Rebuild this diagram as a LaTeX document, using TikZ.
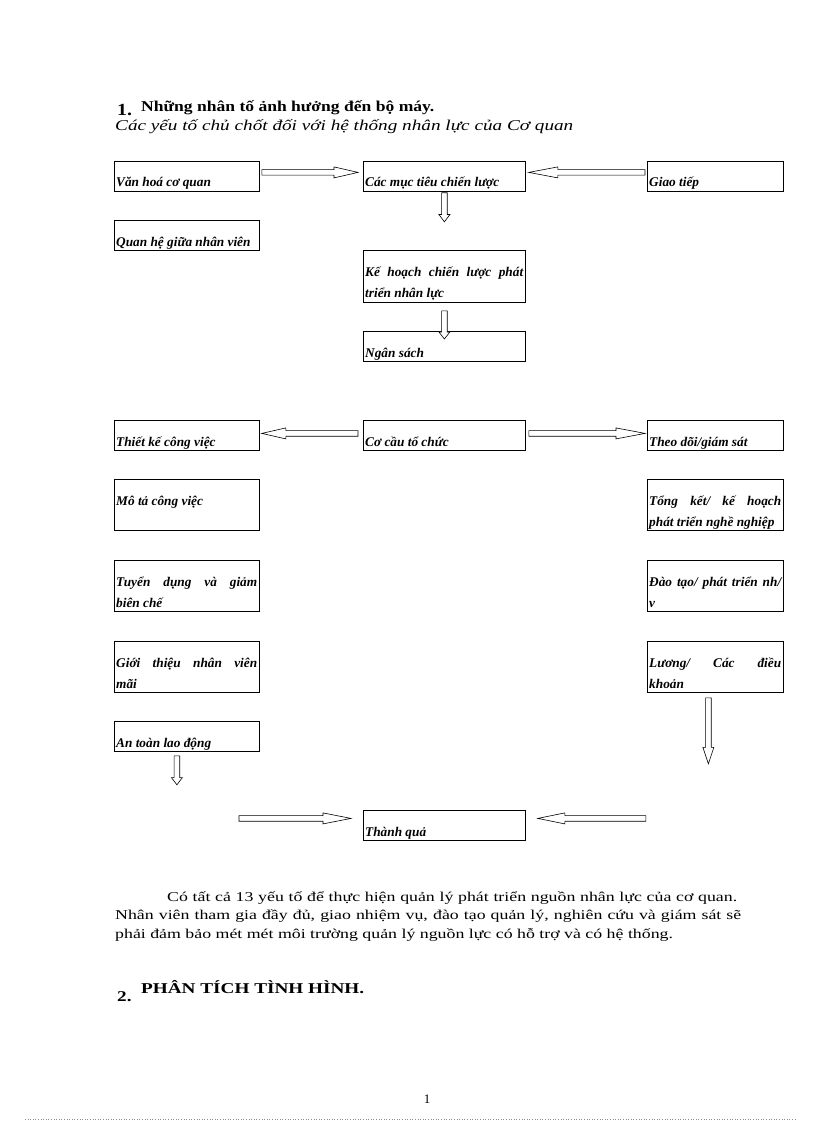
\documentclass[tikz,border=0pt]{standalone}
\usepackage{fontspec}
\setmainfont{Liberation Serif}
\newfontfamily\wideserif[FakeStretch=1.28]{Liberation Serif}
\newfontfamily\headserif[FakeStretch=1.17]{Liberation Serif}
\newfontfamily\paraserif[FakeStretch=1.32]{Liberation Serif}
\usetikzlibrary{calc}
\tikzset{
  box/.style={draw, line width=0.8pt, inner sep=0pt, anchor=north west},
  lbl/.style={inner sep=0pt, anchor=base west, font=\fontsize{13.3}{21}\selectfont\bfseries\itshape},
  txt/.style={inner sep=0pt, anchor=base west},
  arr/.style={draw, line width=0.6pt, fill=white, line join=miter},
}
\newcommand\bx[6]{%
  \node[box, minimum width=#4pt, minimum height=#5pt] (#1) at (#2,#3) {};
  \node[lbl] (#1t) at ($(#1.north west)+(2,26)$) {\parbox[t]{\dimexpr #4pt-4pt\relax}{#6}};}
\newcommand\jl[1]{\makebox[\linewidth][s]{#1}}
\newcommand\barrow[2]{%
  \coordinate (bm) at ($(#1)!0.75!(#2)$);
  \draw[arr] ($(#1)!2.8pt!90:(#2)$) -- ($(bm)!2.8pt!90:(#2)$) -- ($(bm)!5.5pt!90:(#2)$) -- (#2)
    -- ($(bm)!5.5pt!-90:(#2)$) -- ($(bm)!2.8pt!-90:(#2)$) -- ($(#1)!2.8pt!-90:(#2)$) -- cycle;}
\begin{document}
\begin{tikzpicture}[x=1pt, y=-1pt]
\useasboundingbox (0,0) rectangle (816,1123);
% headings
\node[txt, font=\headserif\bfseries\fontsize{17}{20}\selectfont] (h1n) at (117,116) {1.};
\node[txt, font=\headserif\bfseries\fontsize{15}{18}\selectfont] (h1) at (141,112) {Những nhân tố ảnh hưởng đến bộ máy.};
\node[txt, font=\wideserif\itshape\fontsize{15}{18}\selectfont] (sub) at (115,131) {Các yếu tố chủ chốt đối với hệ thống nhân lực của Cơ quan};
% boxes
\bx{vh}{114}{161}{145}{30}{Văn hoá cơ quan}
\bx{mt}{363}{161}{162}{30}{Các mục tiêu chiến lược}
\bx{gt}{647}{161}{136}{30}{Giao tiếp}
\bx{qh}{114}{220}{145}{30}{Quan hệ giữa nhân viên}
\bx{kh}{363}{250}{162}{52}{\jl{Kế hoạch chiến lược phát}\\triển nhân lực}
\bx{ns}{363}{331}{162}{30}{Ngân sách}
\bx{tk}{114}{420}{145}{30}{Thiết kế công việc}
\bx{cc}{363}{420}{162}{30}{Cơ cầu tổ chức}
\bx{td}{647}{420}{136}{30}{Theo dõi/giám sát}
\bx{mo}{114}{479}{145}{51}{Mô tả công việc}
\bx{tkk}{647}{479}{136}{51}{\jl{Tổng kết/ kế hoạch}\\phát triển nghề nghiệp}
\bx{tu}{114}{560}{145}{51}{\jl{Tuyển dụng và giảm}\\biên chế}
\bx{dt}{647}{560}{136}{51}{\jl{Đào tạo/ phát triển nh/}\\v}
\bx{gi}{114}{641}{145}{51}{\jl{Giới thiệu nhân viên}\\mãi}
\bx{lu}{647}{641}{136}{51}{\jl{Lương/ Các điều}\\khoản}
\bx{an}{114}{721}{145}{30}{An toàn lao động}
\bx{tq}{363}{810}{162}{30}{Thành quả}
% arrow end points
\coordinate (a1s) at ($(vh.east)+(2,-4)$);  \coordinate (a1e) at ($(mt.west)+(-5,-4)$);
\coordinate (a2s) at ($(gt.west)+(-2,-4)$); \coordinate (a2e) at ($(mt.east)+(3,-4)$);
\coordinate (a3s) at ($(mt.south)+(0,1)$);  \coordinate (a3e) at ($(mt.south)+(0,30)$);
\coordinate (a4s) at ($(kh.south)+(0,8)$);  \coordinate (a4e) at ($(ns.north)+(0,8)$);
\coordinate (a5s) at ($(cc.west)+(-5,-2)$); \coordinate (a5e) at ($(tk.east)+(2,-2)$);
\coordinate (a6s) at ($(cc.east)+(3,-2)$);  \coordinate (a6e) at ($(td.west)+(-2,-2)$);
\coordinate (a7s) at ($(an.south)+(-10,4)$); \coordinate (a7e) at ($(an.south)+(-10,33)$);
\coordinate (a8s) at ($(lu.south)+(-7,5)$);  \coordinate (a8e) at ($(lu.south)+(-7,71)$);
\coordinate (a9s) at ($(tq.west)+(-124,-7)$); \coordinate (a9e) at ($(tq.west)+(-12,-7)$);
\coordinate (a10s) at ($(tq.east)+(120,-7)$); \coordinate (a10e) at ($(tq.east)+(12,-7)$);
\barrow{a1s}{a1e}
\barrow{a2s}{a2e}
\barrow{a3s}{a3e}
\barrow{a4s}{a4e}
\barrow{a5s}{a5e}
\barrow{a6s}{a6e}
\barrow{a7s}{a7e}
\barrow{a8s}{a8e}
\barrow{a9s}{a9e}
\barrow{a10s}{a10e}
% paragraph
\node[txt, font=\paraserif\fontsize{13.5}{19}\selectfont] (p1) at (167,901) {\makebox[570pt][s]{Có tất cả 13 yếu tố để thực hiện quản lý phát triển nguồn nhân lực của cơ quan.}};
\node[txt, font=\paraserif\fontsize{13.5}{19}\selectfont] (p2) at (115,919) {\makebox[626pt][s]{Nhân viên tham gia đầy đủ, giao nhiệm vụ, đào tạo quản lý, nghiên cứu và giám sát sẽ}};
\node[txt, font=\paraserif\fontsize{13.5}{19}\selectfont] (p3) at (115,938) {phải đảm bảo mét mét môi trường quản lý nguồn lực có hỗ trợ và có hệ thống.};
% heading 2
\node[txt, font=\wideserif\bfseries\fontsize{15}{18}\selectfont] (h2n) at (117,1001) {2.};
\node[txt, font=\wideserif\bfseries\fontsize{15}{18}\selectfont] (h2) at (141,993) {PHÂN TÍCH TÌNH HÌNH.};
% page number and footer rule
\node[inner sep=0pt, anchor=base, font=\fontsize{13}{15}\selectfont] (pg) at (427,1103) {1};
\coordinate (fl) at (25,1119); \coordinate (fr) at (796,1119);
\draw[black!45, dotted, line width=0.6pt] (fl) -- (fr);
\end{tikzpicture}
\end{document}
